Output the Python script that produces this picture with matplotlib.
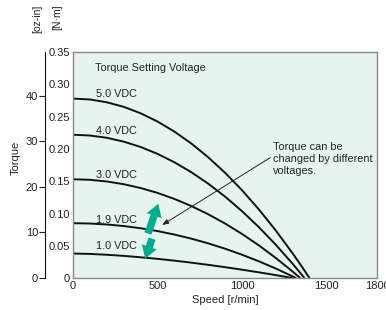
import matplotlib
matplotlib.use('Agg')
import matplotlib.pyplot as plt

plt.rcParams['font.family'] = ['Liberation Sans', 'DejaVu Sans']
plt.rcParams['font.size'] = 7.8

# torque-speed curves [N·m] vs speed [r/min]
speed_50 = [0, 100, 200, 300, 400, 500, 600, 700, 800, 900, 1000, 1100, 1200, 1300, 1350, 1400]
torque_50 = [0.278, 0.2766, 0.2723, 0.2652, 0.2553, 0.2425, 0.2269, 0.2085, 0.1872,
             0.1631, 0.1362, 0.1064, 0.0738, 0.0383, 0.0195, 0.0]
speed_40 = [0, 100, 200, 300, 400, 500, 600, 700, 800, 900, 1000, 1100, 1200, 1300, 1340, 1370]
torque_40 = [0.222, 0.2208, 0.2173, 0.2113, 0.2031, 0.1924, 0.1794, 0.1640, 0.1463,
             0.1262, 0.1037, 0.0789, 0.0517, 0.0221, 0.0096, 0.0]
speed_30 = [0, 100, 200, 300, 400, 500, 600, 700, 800, 900, 1000, 1100, 1200, 1300, 1345]
torque_30 = [0.153, 0.1522, 0.1496, 0.1454, 0.1395, 0.1319, 0.1226, 0.1116, 0.0989,
             0.0845, 0.0684, 0.0507, 0.0312, 0.0101, 0.0]
speed_19 = [0, 100, 200, 300, 400, 500, 600, 700, 800, 900, 1000, 1100, 1200, 1300, 1320]
torque_19 = [0.085, 0.0845, 0.0830, 0.0806, 0.0772, 0.0728, 0.0674, 0.0611, 0.0538,
             0.0455, 0.0362, 0.0260, 0.0148, 0.0026, 0.0]
speed_10 = [0, 100, 200, 300, 400, 500, 600, 700, 800, 900, 1000, 1100, 1200, 1300]
torque_10 = [0.038, 0.0374, 0.0361, 0.0344, 0.0322, 0.0298, 0.0270, 0.0239, 0.0205,
             0.0169, 0.0130, 0.0089, 0.0046, 0.0]

curve_labels = ['5.0 VDC', '4.0 VDC', '3.0 VDC', '1.9 VDC', '1.0 VDC']
label_torque = [0.285, 0.2275, 0.1595, 0.0905, 0.0495]

x_ticks = [0, 500, 1000, 1500, 1800]
nm_ticks = [0, 0.05, 0.10, 0.15, 0.20, 0.25, 0.30, 0.35]
nm_labels = ['0', '0.05', '0.10', '0.15', '0.20', '0.25', '0.30', '0.35']
ozin_ticks = [0, 10, 20, 30, 40]
NM_TO_OZIN = 141.6

fig = plt.figure(figsize=(3.86, 3.10), dpi=100)
ax = fig.add_axes([0.189, 0.103, 0.788, 0.729])
ax.set_facecolor('#e6f3ef')
for s in ax.spines.values():
    s.set_color('#8a8a8a')
    s.set_linewidth(1.0)

curves = [(speed_50, torque_50), (speed_40, torque_40), (speed_30, torque_30),
          (speed_19, torque_19), (speed_10, torque_10)]
for sp, tq in curves:
    ax.plot(sp, tq, color='#111111', lw=1.4, solid_capstyle='butt', solid_joinstyle='round')

for lab, ty in zip(curve_labels, label_torque):
    ax.text(135, ty, lab, ha='left', va='center', color='#222222')

ax.text(130, 0.325, 'Torque Setting Voltage', ha='left', va='center', color='#222222')

ax.set_xlim(0, 1800)
ax.set_ylim(0, 0.35)
ax.set_xticks(x_ticks)
ax.set_xticklabels([str(v) for v in x_ticks])
ax.set_yticks(nm_ticks)
ax.set_yticklabels(nm_labels)
ax.tick_params(axis='both', length=0, pad=2, labelsize=8, colors='#222222')
ax.set_xlabel('Speed [r/min]', fontsize=8, labelpad=3, color='#222222')

# annotation
ax.annotate('Torque can be\nchanged by different\nvoltages.',
            xy=(527, 0.082), xytext=(1184, 0.211),
            ha='left', va='top', color='#222222', linespacing=1.25,
            arrowprops=dict(arrowstyle='-|>,head_length=0.5,head_width=0.18',
                            color='#222222', lw=0.7,
                            shrinkA=0, shrinkB=0,
                            relpos=(-0.02, 0.55)))

# green arrows
green = '#00ad8c'
style = 'simple,head_length=0.6,head_width=0.75,tail_width=0.35'
ax.annotate('', xy=(505, 0.115), xytext=(444, 0.069),
            arrowprops=dict(arrowstyle=style, color=green, lw=0,
                            shrinkA=0, shrinkB=0, mutation_scale=15))
ax.annotate('', xy=(428, 0.030), xytext=(468, 0.061),
            arrowprops=dict(arrowstyle=style, color=green, lw=0,
                            shrinkA=0, shrinkB=0, mutation_scale=15))

# oz-in axis
ax2 = ax.twinx()
ax2.set_ylim(0, 0.35 * NM_TO_OZIN)
ax2.yaxis.set_ticks_position('left')
ax2.yaxis.set_label_position('left')
for k in ['right', 'top', 'bottom']:
    ax2.spines[k].set_visible(False)
ax2.spines['left'].set_position(('outward', 20))
ax2.spines['left'].set_color('#111111')
ax2.set_yticks(ozin_ticks)
ax2.tick_params(axis='y', length=4, width=0.8, pad=1, labelsize=8, colors='#222222')

fig.text(0.04, 0.49, 'Torque', rotation=90, ha='center', va='center', fontsize=8, color='#222222')
fig.text(0.096, 0.985, '[oz-in]', rotation=90, ha='center', va='top', fontsize=7.5, color='#222222')
fig.text(0.148, 0.985, '[N·m]', rotation=90, ha='center', va='top', fontsize=7.5, color='#222222')

fig.savefig('out.png', dpi=100)
